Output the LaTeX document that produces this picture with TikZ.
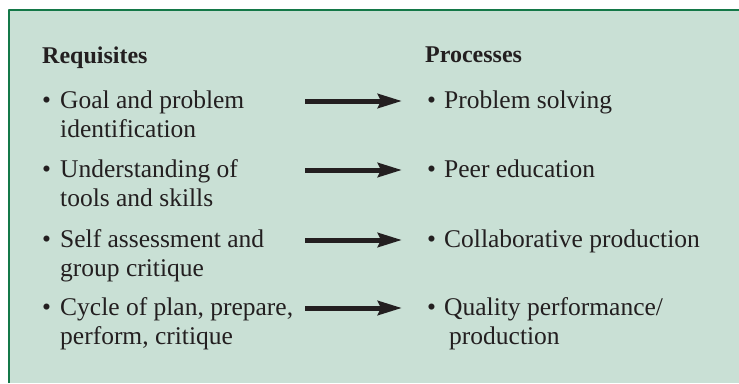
\documentclass[tikz,border=0pt]{standalone}
\usepackage{fontspec}
\setmainfont{Liberation Serif}
\usetikzlibrary{arrows.meta}
\definecolor{boxfill}{RGB}{201,224,213}
\definecolor{boxline}{RGB}{20,120,72}
\definecolor{ink}{RGB}{35,31,32}
% bullet set in a box of fixed width, so that wrapped lines line up
\newcommand{\bul}[1][18pt]{\makebox[#1][l]{\textbullet}}
% two lines, hung from the baseline of the first one
\newcommand{\twoline}[2]{\begin{tabular}[t]{@{}l@{}}#1\\#2\end{tabular}}
\begin{document}
\begin{tikzpicture}[x=1pt, y=-1pt, line join=round,
  item/.style={anchor=base west, inner sep=0pt, text=ink,
    font=\fontsize{25.5}{29}\selectfont},
  head/.style={item, font=\fontsize{24}{29}\selectfont\bfseries},
  link/.style={draw=ink, line width=5pt, -{Stealth[length=24pt, width=14pt, inset=3pt]}}]
\useasboundingbox (0,0) rectangle (739,383);
\fill[boxfill] (9,10) rectangle (739,383);
\draw[boxline, line width=2.5pt] (9,383) -- (9,10) -- (739,10);
% headings
\node[head] (req) at (42,63) {Requisites};
\node[head] (proc) at (425,62) {Processes};
% requisites
\node[item] (req1) at (42,108) {\bul\twoline{Goal and problem}{identification}};
\node[item] (req2) at (42,177) {\bul\twoline{Understanding of}{tools and skills}};
\node[item] (req3) at (42,247) {\bul\twoline{Self assessment and}{group critique}};
\node[item] (req4) at (42,315) {\bul\twoline{Cycle of plan, prepare,}{perform, critique}};
% processes
\node[item] (proc1) at (427,108) {\bul[17pt]Problem solving};
\node[item] (proc2) at (427,177) {\bul[17pt]Peer education};
\node[item] (proc3) at (427,247) {\bul[17pt]Collaborative production};
\node[item] (proc4) at (427,315) {\bul[17pt]\twoline{Quality performance/}{\hspace*{5pt}production}};
\foreach \i in {1,...,4}
  \draw[link] ([shift={(263pt,7pt)}]req\i.base west) -- ([shift={(-25pt,7pt)}]proc\i.base west);
\end{tikzpicture}
\end{document}
